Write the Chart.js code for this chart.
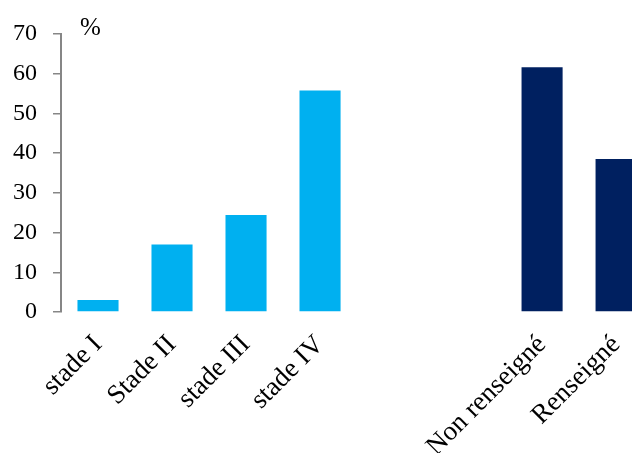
<!DOCTYPE html>
<html>
<head>
<meta charset="utf-8">
<script src="https://cdn.jsdelivr.net/npm/chart.js@4.4.1/dist/chart.umd.min.js"></script>
<style>
  html, body { margin: 0; padding: 0; background: #fff; overflow: hidden; }
  #wrap { width: 632px; height: 453px; overflow: hidden; position: relative; }
  canvas { display: block; }
</style>
</head>
<body>
<div id="wrap"><canvas id="c" width="656" height="453"></canvas></div>
<script>
const categories = ['stade I', 'Stade II', 'stade III', 'stade IV', '', '', 'Non renseigné', 'Renseigné']
const stadeValues = [3.0, 17.0, 24.4, 55.8, null, null, null, null]
const renseigneValues = [null, null, null, null, null, null, 61.6, 38.5]
const yTicks = [0, 10, 20, 30, 40, 50, 60, 70]

const FONT = '"Liberation Serif", "Times New Roman", serif'

// "%" unit label above the y axis
const unitLabel = {
  id: 'unitLabel',
  afterDraw (chart) {
    const { ctx, chartArea } = chart
    ctx.save()
    ctx.font = '25px ' + FONT
    ctx.fillStyle = '#000'
    ctx.textBaseline = 'alphabetic'
    ctx.fillText('%', chartArea.left + 19, chartArea.top + 1)
    ctx.restore()
  }
}

new Chart(document.getElementById('c'), {
  type: 'bar',
  data: {
    labels: categories,
    datasets: [
      { data: stadeValues, backgroundColor: '#00B0F0', skipNull: true },
      { data: renseigneValues, backgroundColor: '#002060', skipNull: true }
    ]
  },
  options: {
    responsive: false,
    animation: false,
    layout: { padding: { top: 34, right: 0, left: 0, bottom: 0 } },
    datasets: { bar: { grouped: false, categoryPercentage: 1, barPercentage: 0.555 } },
    plugins: {
      legend: { display: false },
      tooltip: { enabled: false }
    },
    scales: {
      x: {
        offset: true,
        grid: { display: false, drawTicks: false },
        border: { display: false },
        ticks: {
          color: '#000',
          font: { family: FONT, size: 27 },
          minRotation: 45,
          maxRotation: 45,
          autoSkip: false,
          padding: 17
        },
        afterFit (scale) { scale.height = 141 }
      },
      y: {
        min: 0,
        max: 70,
        afterBuildTicks (scale) { scale.ticks = yTicks.map(v => ({ value: v })) },
        grid: { display: true, drawOnChartArea: false, drawTicks: true, tickLength: 8, color: '#868686', lineWidth: 1.5 },
        border: { display: true, color: '#868686', width: 2 },
        ticks: {
          color: '#000',
          font: { family: FONT, size: 24 },
          padding: 16
        },
        afterFit (scale) { scale.width = 61 }
      }
    }
  },
  plugins: [unitLabel]
})
</script>
</body>
</html>
